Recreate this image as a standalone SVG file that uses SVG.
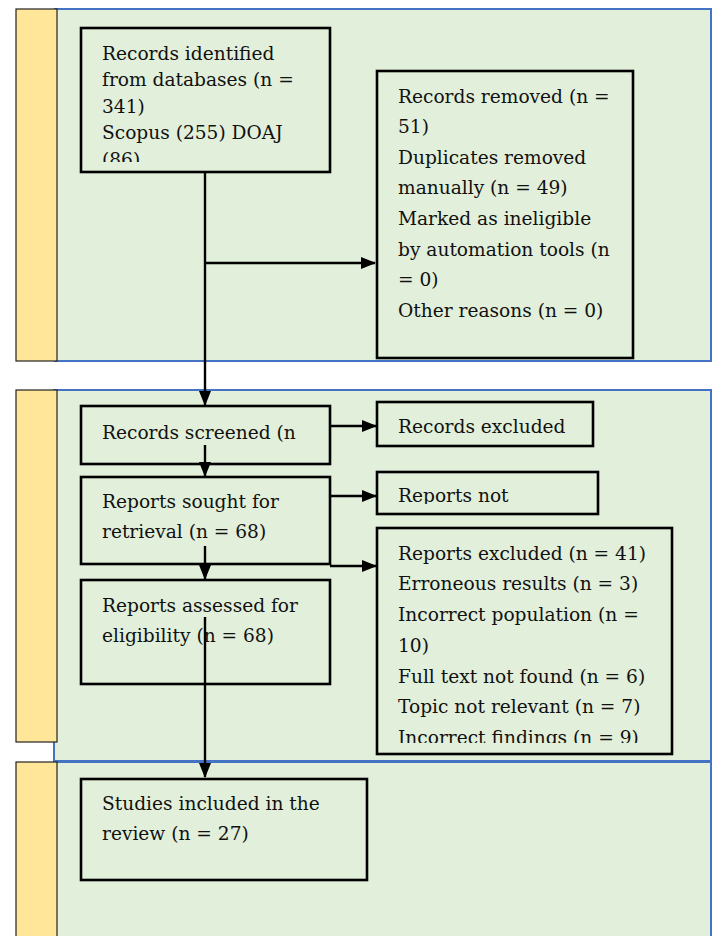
<svg xmlns="http://www.w3.org/2000/svg" width="714" height="936" viewBox="0 0 714 936">
<style>
.panel{fill:#E2EFDA;stroke:#4472C4;stroke-width:2}
.bar{fill:#FFE699;stroke:#222;stroke-width:1.2}
.box{fill:#E2EFDA;stroke:#000;stroke-width:2.6}
.t{font-family:"DejaVu Serif","Liberation Serif",serif;font-size:18.6px;fill:#111}
.c{stroke:#000;stroke-width:2.4;fill:none}
</style>
<defs>
<marker id="ah" markerWidth="15" markerHeight="12" refX="14" refY="6" orient="auto" markerUnits="userSpaceOnUse">
<path d="M0,0 L15,6 L0,12 Z" fill="#000"/>
</marker>
<clipPath id="c1"><rect x="81" y="28" width="249" height="134"/></clipPath>
<clipPath id="c2"><rect x="377" y="472" width="221" height="32"/></clipPath>
<clipPath id="c3"><rect x="377" y="528" width="295" height="215"/></clipPath>
</defs>

<g id="panels">
<rect class="panel" x="55" y="9" width="656" height="352"/>
<rect class="panel" x="54" y="390" width="657" height="371"/>
<rect class="panel" x="55" y="762" width="656" height="190"/>
<rect class="bar" x="16" y="9" width="41" height="352"/>
<rect class="bar" x="16" y="390" width="41" height="352"/>
<rect class="bar" x="16" y="762" width="41" height="190"/>
</g>

<g id="n-identified">
<rect class="box" x="81" y="28" width="249" height="144"/>
<g clip-path="url(#c1)">
<text class="t" x="102" y="60">Records identified</text>
<text class="t" x="102" y="86">from databases (n =</text>
<text class="t" x="102" y="113">341)</text>
<text class="t" x="102" y="139">Scopus (255) DOAJ</text>
<text class="t" x="102" y="166">(86)</text>
</g>
</g>

<g id="n-removed">
<rect class="box" x="377" y="71" width="256" height="287"/>
<text class="t" x="398" y="103">Records removed (n =</text>
<text class="t" x="398" y="133">51)</text>
<text class="t" x="398" y="164">Duplicates removed</text>
<text class="t" x="398" y="194">manually (n = 49)</text>
<text class="t" x="398" y="225">Marked as ineligible</text>
<text class="t" x="398" y="256">by automation tools (n</text>
<text class="t" x="398" y="286">= 0)</text>
<text class="t" x="398" y="317">Other reasons (n = 0)</text>
</g>

<g id="n-screened">
<rect class="box" x="81" y="406" width="249" height="58"/>
<text class="t" x="102" y="439">Records screened (n</text>
</g>

<g id="n-sought">
<rect class="box" x="81" y="477" width="249" height="87"/>
<text class="t" x="102" y="508">Reports sought for</text>
<text class="t" x="102" y="538">retrieval (n = 68)</text>
</g>

<g id="n-assessed">
<rect class="box" x="81" y="580" width="249" height="104"/>
<text class="t" x="102" y="612">Reports assessed for</text>
<text class="t" x="102" y="642">eligibility (n = 68)</text>
</g>

<g id="n-rec-excluded">
<rect class="box" x="377" y="402" width="216" height="44"/>
<text class="t" x="398" y="433">Records excluded</text>
</g>

<g id="n-not-retrieved">
<rect class="box" x="377" y="472" width="221" height="42"/>
<g clip-path="url(#c2)">
<text class="t" x="398" y="502">Reports not</text>
</g>
</g>

<g id="n-rep-excluded">
<rect class="box" x="377" y="528" width="295" height="226"/>
<g clip-path="url(#c3)">
<text class="t" x="398" y="560">Reports excluded (n = 41)</text>
<text class="t" x="398" y="590">Erroneous results (n = 3)</text>
<text class="t" x="398" y="621">Incorrect population (n =</text>
<text class="t" x="398" y="652">10)</text>
<text class="t" x="398" y="683">Full text not found (n = 6)</text>
<text class="t" x="398" y="713">Topic not relevant (n = 7)</text>
<text class="t" x="398" y="744">Incorrect findings (n = 9)</text>
</g>
</g>

<g id="n-included">
<rect class="box" x="81" y="779" width="286" height="101"/>
<text class="t" x="102" y="810">Studies included in the</text>
<text class="t" x="102" y="840">review (n = 27)</text>
</g>

<g id="connectors">
<path class="c" d="M205,172 V405" marker-end="url(#ah)"/>
<path class="c" d="M205,263 H375" marker-end="url(#ah)"/>
<path class="c" d="M205,445 V476" marker-end="url(#ah)"/>
<path class="c" d="M205,546 V579" marker-end="url(#ah)"/>
<path class="c" d="M205,617 V777" marker-end="url(#ah)"/>
<path class="c" d="M330,426 H376" marker-end="url(#ah)"/>
<path class="c" d="M330,496 H376" marker-end="url(#ah)"/>
<path class="c" d="M330,566 H376" marker-end="url(#ah)"/>
</g>
</svg>
